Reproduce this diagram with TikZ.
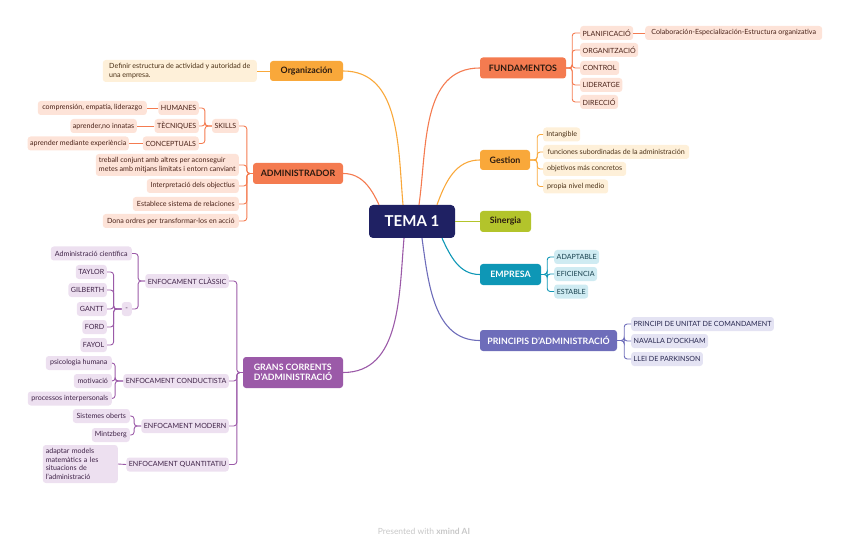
\documentclass[tikz,border=0pt]{standalone}
\usepackage{fontspec}
\setmainfont{Lato}
\usetikzlibrary{calc}
\definecolor{rootc}{HTML}{1F2163}
\definecolor{coral}{HTML}{F47B50}
\definecolor{orng}{HTML}{F9A83A}
\definecolor{lime}{HTML}{B3C42B}
\definecolor{teal}{HTML}{0E97B6}
\definecolor{lav}{HTML}{6E6DBA}
\definecolor{purp}{HTML}{9B5AA8}
\definecolor{coralL}{HTML}{FDE3D8}
\definecolor{orngL}{HTML}{FEF0D9}
\definecolor{tealL}{HTML}{CFEBF2}
\definecolor{lavL}{HTML}{E4E3F3}
\definecolor{purpL}{HTML}{EDE0F0}
\definecolor{coralT}{HTML}{4A2218}
\definecolor{orngT}{HTML}{4A3015}
\definecolor{tealT}{HTML}{163F4C}
\definecolor{lavT}{HTML}{26264E}
\definecolor{purpT}{HTML}{3E2246}
\definecolor{darkT}{HTML}{2A1A10}
\tikzset{
  x=1pt,y=-1pt,
  rootbox/.style={fill=rootc,text=white,rounded corners=4pt,minimum width=86,minimum height=33,inner sep=0,font=\fontsize{15}{18}\selectfont\bfseries},
  mainbox/.style={rounded corners=3pt,minimum height=21,inner sep=0,font=\fontsize{8.8}{10}\selectfont\bfseries},
  leaf/.style={rounded corners=3pt,minimum height=14,inner xsep=2.5,inner ysep=0,font=\fontsize{7.1}{8}\selectfont},
  multi/.style={align=left,inner xsep=3,font=\fontsize{7.1}{8.7}\selectfont},
  cor/.style={leaf,fill=coralL,text=coralT},
  ora/.style={leaf,fill=orngL,text=orngT},
  tea/.style={leaf,fill=tealL,text=tealT},
  lvl/.style={leaf,fill=lavL,text=lavT},
  pur/.style={leaf,fill=purpL,text=purpT},
  bigline/.style={line width=1.1pt},
  sub/.style={draw=#1,line width=0.9pt,rounded corners=3pt},
}
\begin{document}
\begin{tikzpicture}
\path[use as bounding box] (0,0) rectangle (848,545);

% root
\node[rootbox] (root) at (412,221.5) {TEMA 1};

% main branches
\node[mainbox,fill=coral,text=darkT,minimum width=86] (fund) at (523,68) {FUNDAMENTOS};
\node[mainbox,fill=orng,text=darkT,minimum width=50,minimum height=20] (gest) at (505,160) {Gestion};
\node[mainbox,fill=lime,text=darkT,minimum width=51] (siner) at (505.5,221.5) {Sinergia};
\node[mainbox,fill=teal,text=white,minimum width=61] (empr) at (510.5,274.5) {EMPRESA};
\node[mainbox,fill=lav,text=white,minimum width=137] (princ) at (548.5,340.5) {PRINCIPIS D'ADMINISTRACIÓ};
\node[mainbox,fill=orng,text=darkT,minimum width=73,minimum height=20] (org) at (306.5,71) {Organización};
\node[mainbox,fill=coral,text=darkT,minimum width=90] (admin) at (298,173.5) {ADMINISTRADOR};
\node[mainbox,fill=purp,text=white,minimum width=100,minimum height=31,align=left] (grans) at (293,372.5) {GRANS CORRENTS\\D'ADMINISTRACIÓ};

% root connectors
\draw[bigline,coral] ([xshift=-33]root.north) to[out=115,in=0] (admin.east);
\draw[bigline,orng] ([xshift=-9]root.north) to[out=95,in=0] (org.east);
\draw[bigline,coral] ([xshift=7]root.north) to[out=82,in=180] (fund.west);
\draw[bigline,orng] ([xshift=25]root.north) to[out=70,in=180] (gest.west);
\draw[bigline,lime] (root.east) -- (siner.west);
\draw[bigline,teal] ([xshift=30]root.south) to[out=-65,in=180] (empr.west);
\draw[bigline,lav] ([xshift=10]root.south) to[out=-82,in=180] (princ.west);
\draw[bigline,purp] ([xshift=-8]root.south) to[out=-95,in=0] (grans.east);

% FUNDAMENTOS children
\node[cor,anchor=west,minimum width=51] (plan) at (580,33) {PLANIFICACIÓ};
\node[cor,anchor=west,minimum width=177] (colab) at (645,33) {Colaboración-Especialización-Estructura organizativa};
\node[cor,anchor=west,minimum width=57] (organ) at (580,50) {ORGANITZACIÓ};
\node[cor,anchor=west,minimum width=39] (contr) at (580,68) {CONTROL};
\node[cor,anchor=west,minimum width=41] (lider) at (580,85) {LIDERATGE};
\node[cor,anchor=west,minimum width=37] (direc) at (580,102) {DIRECCIÓ};
\foreach \c in {plan,organ,contr,lider,direc}
  \draw[sub=coral] (fund.east) -- ++(6,0) |- (\c.west);
\draw[sub=coral] (plan.east) -- (colab.west);

% Gestion children
\node[ora,anchor=west,minimum width=37] (intang) at (543,134.5) {Intangible};
\node[ora,anchor=west,minimum width=146] (funci) at (543,152) {funciones subordinadas de la administración};
\node[ora,anchor=west,minimum width=83] (objet) at (543,169) {objetivos más concretos};
\node[ora,anchor=west,minimum width=65] (propi) at (543,186.5) {propia nivel medio};
\foreach \c in {intang,funci,objet,propi}
  \draw[sub=orng] (gest.east) -- ++(7,0) |- (\c.west);

% EMPRESA children
\node[tea,anchor=west,minimum width=44] (adapt) at (554,257) {ADAPTABLE};
\node[tea,anchor=west,minimum width=42] (efic) at (554,274) {EFICIENCIA};
\node[tea,anchor=west,minimum width=34] (estab) at (554,291.5) {ESTABLE};
\foreach \c in {adapt,efic,estab}
  \draw[sub=teal] (empr.east) -- ++(6,0) |- (\c.west);

% PRINCIPIS children
\node[lvl,anchor=west,minimum width=133] (unitat) at (631,324) {PRINCIPI DE UNITAT DE COMANDAMENT};
\node[lvl,anchor=west,minimum width=75] (ockham) at (631,341) {NAVALLA D'OCKHAM};
\node[lvl,anchor=west,minimum width=66] (parkin) at (631,359) {LLEI DE PARKINSON};
\foreach \c in {unitat,ockham,parkin}
  \draw[sub=lav] (princ.east) -- ++(7,0) |- (\c.west);

% Organización child
\node[ora,multi,anchor=east,minimum width=154,minimum height=22] (defin) at (257,71) {Definir estructura de actividad y autoridad de\\una empresa.};
\draw[sub=orng] (org.west) -- (defin.east);

% ADMINISTRADOR children
\node[cor,anchor=east,minimum width=26] (skills) at (239,126) {SKILLS};
\node[cor,multi,anchor=east,minimum width=143,minimum height=22] (treb) at (239,165) {treball conjunt amb altres per aconseguir\\metes amb mitjans limitats i entorn canviant};
\node[cor,anchor=east,minimum width=92] (interp) at (239,186) {Interpretació dels objectius};
\node[cor,anchor=east,minimum width=106] (establ) at (239,204) {Establece sistema de relaciones};
\node[cor,anchor=east,minimum width=136] (dona) at (239,221) {Dona ordres per transformar-los en acció};
\foreach \c in {skills,treb,interp,establ,dona}
  \draw[sub=coral] (admin.west) -- ++(-6,0) |- (\c.east);

\node[cor,anchor=east,minimum width=38] (hum) at (199,108) {HUMANES};
\node[cor,anchor=east,minimum width=44] (tec) at (199,126) {TÈCNIQUES};
\node[cor,anchor=east,minimum width=56] (conc) at (199,143.5) {CONCEPTUALS};
\foreach \c in {hum,tec,conc}
  \draw[sub=coral] (skills.west) -- ++(-7,0) |- (\c.east);
\node[cor,anchor=east,minimum width=109] (compr) at (147,108) {comprensión, empatía, liderazgo};
\node[cor,anchor=east,minimum width=64] (aprn) at (137,126) {aprender,no innatas};
\node[cor,anchor=east,minimum width=101] (aprm) at (129,143.5) {aprender mediante experiència};
\draw[sub=coral] (hum.west) -- (compr.east);
\draw[sub=coral] (tec.west) -- (aprn.east);
\draw[sub=coral] (conc.west) -- (aprm.east);

% GRANS CORRENTS children
\node[pur,anchor=east,minimum width=83] (clas) at (229,281) {ENFOCAMENT CLÀSSIC};
\node[pur,anchor=east,minimum width=102] (cond) at (229,381) {ENFOCAMENT CONDUCTISTA};
\node[pur,anchor=east,minimum width=84] (modn) at (229,426) {ENFOCAMENT MODERN};
\node[pur,anchor=east,minimum width=97] (quant) at (229,464.5) {ENFOCAMENT QUANTITATIU};
\foreach \c in {clas,cond,modn,quant}
  \draw[sub=purp] (grans.west) -- ++(-6,0) |- (\c.east);

\node[pur,anchor=east,minimum width=81] (admc) at (132,253.5) {Administració científica};
\node[pur,anchor=east,minimum width=10,inner xsep=1] (dash) at (132,309) {-};
\foreach \c in {admc,dash}
  \draw[sub=purp] (clas.west) -- ++(-7,0) |- (\c.east);
\node[pur,anchor=east,minimum width=31] (taylor) at (107,272) {TAYLOR};
\node[pur,anchor=east,minimum width=37] (gilb) at (107,290) {GILBERTH};
\node[pur,anchor=east,minimum width=30] (gantt) at (107,309) {GANTT};
\node[pur,anchor=east,minimum width=24] (ford) at (107,327) {FORD};
\node[pur,anchor=east,minimum width=25] (fayol) at (107,345) {FAYOL};
\foreach \c in {taylor,gilb,gantt,ford,fayol}
  \draw[sub=purp] (dash.west) -- ++(-8,0) |- (\c.east);

\node[pur,anchor=east,minimum width=66] (psico) at (112,363) {psicologia humana};
\node[pur,anchor=east,minimum width=38] (motiv) at (112,381) {motivació};
\node[pur,anchor=east,minimum width=84] (proce) at (112,398.5) {processos interpersonals};
\foreach \c in {psico,motiv,proce}
  \draw[sub=purp] (cond.west) -- ++(-8,0) |- (\c.east);

\node[pur,anchor=east,minimum width=57] (siste) at (130,416) {Sistemes oberts};
\node[pur,anchor=east,minimum width=38] (mintz) at (130,435) {Mintzberg};
\foreach \c in {siste,mintz}
  \draw[sub=purp] (modn.west) -- ++(-7,0) |- (\c.east);

\node[pur,anchor=east,text width=69,minimum height=38,align=left,inner xsep=3,font=\fontsize{7.1}{8.8}\selectfont] (adaptm) at (118,464) {adaptar models\\matemàtics a les\\situacions de\\l'administració};
\draw[sub=purp] (quant.west) -- (adaptm.east);

% watermark
\node[text=black!22,font=\fontsize{8.5}{10}\selectfont] (wm) at (424,531) {Presented with \textbf{xmind AI}};
\end{tikzpicture}
\end{document}
